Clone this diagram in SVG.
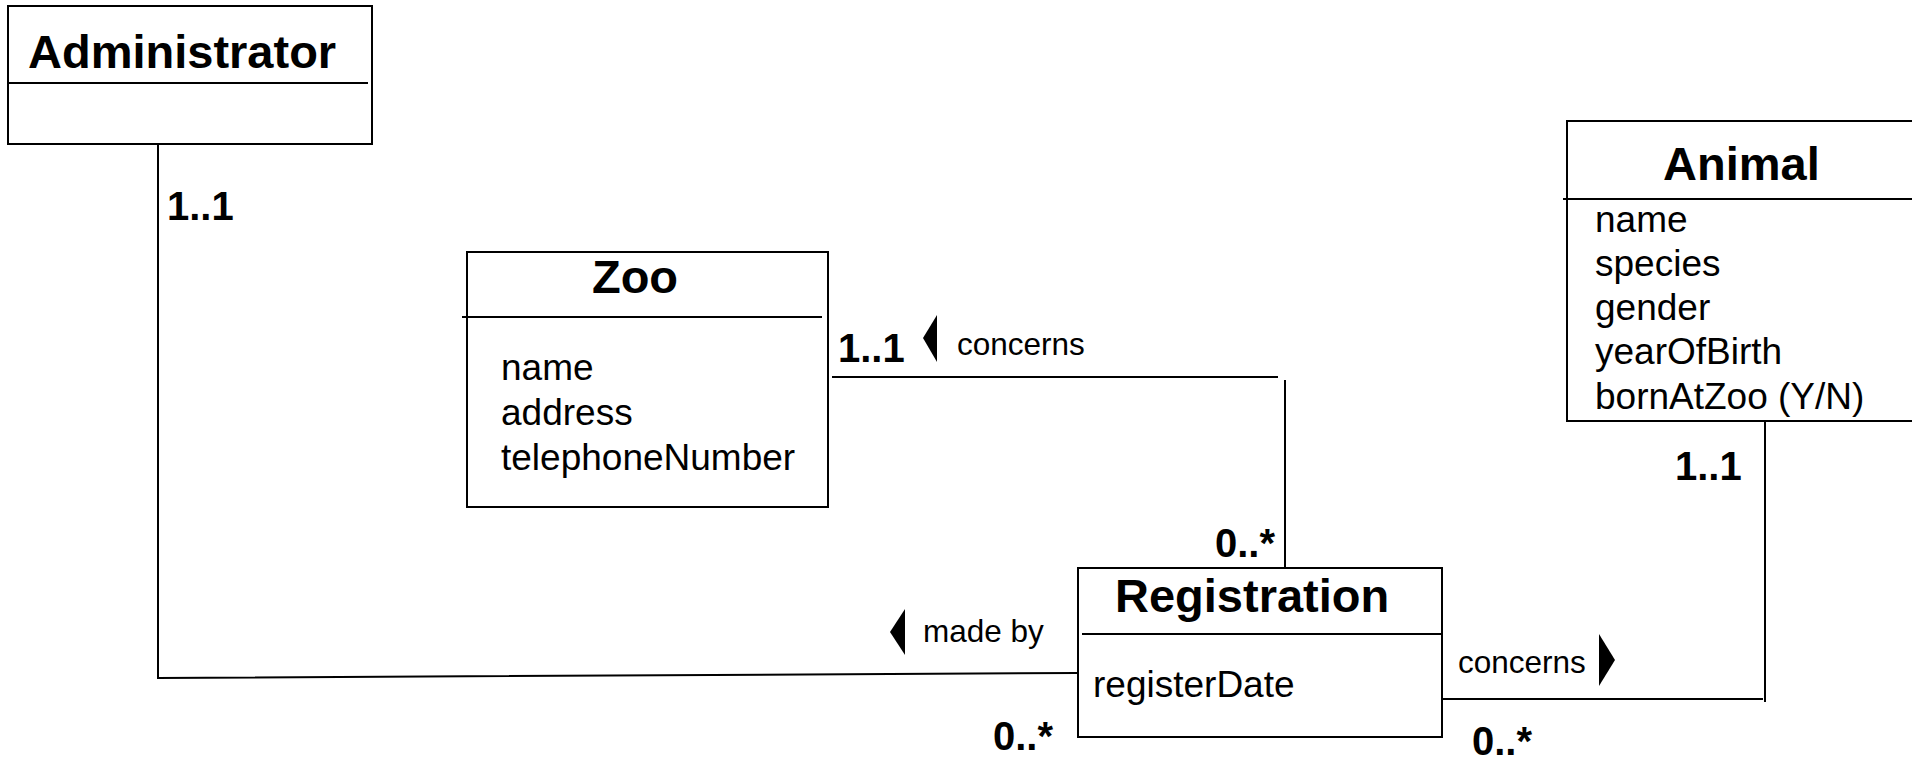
<svg xmlns="http://www.w3.org/2000/svg" width="1912" height="763" viewBox="0 0 1912 763">
<style>
.box{fill:#fff;stroke:#000;stroke-width:2}
.div{stroke:#000;stroke-width:2;fill:none}
.ln{stroke:#000;stroke-width:2;fill:none}
.title{font-family:"Liberation Sans",Arial,sans-serif;font-weight:bold;font-size:47px;fill:#000}
.attr{font-family:"Liberation Sans",Arial,sans-serif;font-size:37px;fill:#000}
.mult{font-family:"Liberation Sans",Arial,sans-serif;font-weight:bold;font-size:40px;fill:#000}
.rel{font-family:"Liberation Sans",Arial,sans-serif;font-size:31.5px;fill:#000}
.tri{fill:#000}
</style>
<rect width="1912" height="763" fill="#fff"/>
<g id="connectors">
<polyline class="ln" points="158,144 158,678 1078,673"/>
<line class="ln" x1="832" y1="377" x2="1278" y2="377"/>
<line class="ln" x1="1285" y1="380" x2="1285" y2="568"/>
<line class="ln" x1="1442" y1="699" x2="1763" y2="699"/>
<line class="ln" x1="1765" y1="421" x2="1765" y2="702"/>
<text class="mult" x="167" y="220">1..1</text>
<text class="mult" x="838" y="362">1..1</text>
<polygon class="tri" points="923,338 937,315 937,362"/>
<text class="rel" x="957" y="355">concerns</text>
<text class="mult" x="1215" y="557">0..*</text>
<polygon class="tri" points="890,632 905,609 905,655"/>
<text class="rel" x="923" y="642">made by</text>
<text class="mult" x="993" y="750">0..*</text>
<text class="rel" x="1458" y="673">concerns</text>
<polygon class="tri" points="1615,660 1599,634 1599,686"/>
<text class="mult" x="1472" y="755">0..*</text>
<text class="mult" x="1675" y="480">1..1</text>
</g>
<g id="administrator">
<rect class="box" x="8" y="6" width="364" height="138"/>
<line class="div" x1="8" y1="83" x2="368" y2="83"/>
<text class="title" x="28" y="68">Administrator</text>
</g>
<g id="zoo">
<rect class="box" x="467" y="252" width="361" height="255"/>
<line class="div" x1="462" y1="317" x2="822" y2="317"/>
<text class="title" x="635" y="293" text-anchor="middle">Zoo</text>
<text class="attr" x="501" y="380">name</text>
<text class="attr" x="501" y="425">address</text>
<text class="attr" x="501" y="470">telephoneNumber</text>
</g>
<g id="registration">
<rect class="box" x="1078" y="568" width="364" height="169"/>
<line class="div" x1="1082" y1="634" x2="1442" y2="634"/>
<text class="title" x="1115" y="612">Registration</text>
<text class="attr" x="1093" y="697">registerDate</text>
</g>
<g id="animal">
<rect class="box" x="1567" y="121" width="360" height="300"/>
<line class="div" x1="1563" y1="199" x2="1912" y2="199"/>
<text class="title" x="1663" y="180">Animal</text>
<text class="attr" x="1595" y="232">name</text>
<text class="attr" x="1595" y="276">species</text>
<text class="attr" x="1595" y="320">gender</text>
<text class="attr" x="1595" y="364">yearOfBirth</text>
<text class="attr" x="1595" y="409">bornAtZoo (Y/N)</text>
</g>
</svg>
